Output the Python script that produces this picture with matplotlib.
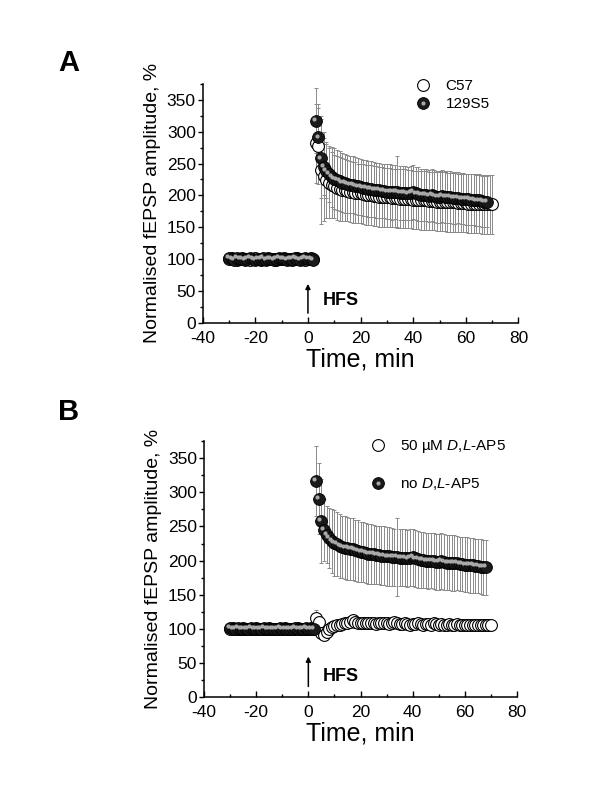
# -*- coding: utf-8 -*-
# LTP time course, two panels (A: strains, B: +/- D,L-AP5)
import numpy as np
import matplotlib
matplotlib.use('Agg')
import matplotlib.pyplot as plt
from matplotlib.ticker import MultipleLocator
from matplotlib.lines import Line2D
from matplotlib.legend_handler import HandlerTuple
from matplotlib.transforms import offset_copy

plt.rcParams['font.family'] = ['Liberation Sans', 'DejaVu Sans']
plt.rcParams['mathtext.fontset'] = 'custom'
plt.rcParams['mathtext.rm'] = 'Liberation Sans'
plt.rcParams['mathtext.it'] = 'Liberation Sans:italic'
plt.rcParams['axes.unicode_minus'] = False

# ---- data ----
t_base = np.arange(-30, 3)          # baseline, -30 .. 2 min
base_filled = [101, 100, 99, 101, 100, 100, 99, 100, 101, 100, 99,
               100, 100, 101, 99, 100, 100, 99, 100, 101, 100, 100,
               99, 100, 100, 101, 100, 99, 100, 101, 100, 100, 99]
base_open = [100, 101, 100, 99, 100, 101, 100, 100, 99, 100, 101,
             100, 99, 100, 100, 101, 100, 100, 99, 100, 100, 101,
             100, 100, 99, 100, 101, 100, 100, 99, 100, 101, 100]
base_err = [3] * 33

t_filled = np.arange(3, 69)         # after HFS
post_filled = [317, 291, 258, 245, 238, 233, 229, 226, 224, 222,
               220, 219, 218, 217, 217, 215, 214, 213, 212, 211,
               210, 210, 209, 208, 208, 207, 207, 206, 206, 205,
               205, 205, 204, 204, 204, 203, 204, 205, 203, 202,
               201, 201, 200, 199, 200, 199, 198, 198, 199, 198,
               197, 197, 196, 196, 196, 195, 195, 194, 194, 193,
               193, 192, 192, 191, 190, 190]
err_filled = [51, 52, 62, 45, 42, 44, 47, 48, 47, 47,
              46, 46, 46, 45, 45, 45, 45, 44, 44, 44,
              44, 44, 43, 43, 43, 43, 43, 43, 43, 43,
              42, 57, 42, 42, 42, 42, 42, 42, 42, 42,
              41, 41, 41, 41, 41, 41, 41, 41, 41, 41,
              41, 41, 41, 41, 40, 40, 40, 40, 40, 40,
              40, 40, 40, 40, 40, 40]

t_open = np.arange(3, 71)
post_c57 = [282, 278, 240, 230, 224, 220, 216, 214, 212, 210,
            209, 208, 207, 206, 205, 204, 203, 203, 202, 201,
            200, 200, 199, 199, 198, 198, 197, 197, 197, 196,
            196, 196, 195, 195, 195, 194, 194, 193, 193, 193,
            192, 192, 192, 191, 191, 191, 190, 190, 190, 190,
            189, 189, 189, 189, 188, 188, 188, 188, 187, 187,
            187, 187, 187, 186, 186, 186, 186, 186]
err_c57 = [62, 60, 85, 70, 60, 55, 52, 50, 50, 50,
           49, 49, 48, 48, 48, 48, 47, 47, 47, 47,
           47, 47, 47, 47, 47, 47, 46, 46, 46, 46,
           46, 46, 46, 46, 46, 46, 46, 46, 46, 46,
           46, 46, 46, 46, 46, 46, 46, 46, 46, 46,
           46, 46, 46, 46, 46, 46, 46, 46, 46, 46,
           46, 46, 46, 46, 46, 46, 46, 46]

post_ap5 = [115, 110, 93, 91, 95, 99, 102, 104, 105, 106,
            107, 108, 109, 110, 112, 110, 109, 109, 108, 108,
            109, 108, 108, 107, 108, 108, 109, 108, 107, 108,
            110, 108, 107, 107, 108, 107, 106, 107, 107, 108,
            107, 106, 107, 107, 106, 108, 107, 106, 107, 106,
            106, 107, 106, 106, 107, 106, 105, 106, 106, 105,
            106, 105, 106, 105, 105, 106, 105, 105]
err_ap5 = [12, 9, 7, 7, 7, 6, 6, 6, 6, 6,
           6, 6, 6, 6, 6, 6, 6, 6, 6, 6,
           6, 6, 6, 6, 6, 6, 6, 6, 6, 6,
           6, 6, 6, 6, 6, 6, 6, 6, 6, 6,
           6, 6, 6, 6, 6, 6, 6, 6, 6, 6,
           6, 6, 6, 6, 6, 6, 6, 6, 6, 6,
           6, 6, 6, 6, 6, 6, 6, 6]

fig = plt.figure(figsize=(6, 7.99), dpi=100)
axA = fig.add_axes([0.3378, 0.5961, 0.5263, 0.2988])
axB = fig.add_axes([0.3400, 0.1280, 0.5217, 0.3196])

MS = 8.5
HL_MS = 3.0
HL_COL = '#a8a8a8'


def series(ax, t, y, err, filled):
    ax.errorbar(t, y, yerr=err, fmt='none', ecolor='#8a8a8a', elinewidth=0.7,
                capsize=1.6, capthick=0.7, zorder=1)
    if filled:
        ax.plot(t, y, 'o', ms=MS, mfc='#1a1a1a', mec='black', mew=0.6, zorder=4)
        hl = offset_copy(ax.transData, fig=fig, x=-1.4, y=1.4, units='points')
        ax.plot(t, y, 'o', ms=HL_MS, mfc=HL_COL, mec='none', transform=hl, zorder=5)
    else:
        ax.plot(t, y, 'o', ms=MS, mfc='white', mec='black', mew=0.8, zorder=3)


def style(ax, arrow_y, hfs_y):
    ax.set_xlim(-40, 80)
    ax.set_ylim(0, 375)
    ax.xaxis.set_major_locator(MultipleLocator(20))
    ax.xaxis.set_minor_locator(MultipleLocator(10))
    ax.yaxis.set_major_locator(MultipleLocator(50))
    ax.yaxis.set_minor_locator(MultipleLocator(25))
    for s in ['top', 'right']:
        ax.spines[s].set_visible(False)
    for s in ['left', 'bottom']:
        ax.spines[s].set_linewidth(1.1)
    ax.tick_params(axis='x', which='both', direction='in', labelsize=12.5, pad=6, width=1)
    ax.tick_params(axis='x', which='major', length=4)
    ax.tick_params(axis='x', which='minor', length=2.5)
    ax.tick_params(axis='y', which='both', direction='out', labelsize=12.5, pad=1.5, width=1)
    ax.tick_params(axis='y', which='major', length=3.5)
    ax.tick_params(axis='y', which='minor', length=2)
    ax.set_xlabel('Time, min', fontsize=18, labelpad=1)
    ax.set_ylabel('Normalised fEPSP amplitude, %', fontsize=14, labelpad=4)
    ax.annotate('', xy=(0, arrow_y[1]), xytext=(0, arrow_y[0]),
                arrowprops=dict(arrowstyle='-|>', color='black', lw=1.1,
                                mutation_scale=7, shrinkA=0, shrinkB=0))
    ax.text(5.5, hfs_y, 'HFS', fontsize=13, fontweight='bold', va='center', ha='left')


# panel A
series(axA, np.concatenate([t_base, t_open]), base_open + post_c57, base_err + err_c57, False)
series(axA, np.concatenate([t_base, t_filled]), base_filled + post_filled, base_err + err_filled, True)
style(axA, (15, 61), 35)

# panel B
series(axB, np.concatenate([t_base, t_open]), base_open + post_ap5, base_err + err_ap5, False)
series(axB, np.concatenate([t_base, t_filled]), base_filled + post_filled, base_err + err_filled, True)
style(axB, (15, 59), 30)

h_open = Line2D([], [], ls='none', marker='o', ms=MS, mfc='white', mec='black', mew=0.8)
h_ball = Line2D([], [], ls='none', marker='o', ms=MS, mfc='#1a1a1a', mec='black', mew=0.6)
h_dot = Line2D([], [], ls='none', marker='o', ms=HL_MS, mfc=HL_COL, mec='none')

axA.legend([h_open, (h_ball, h_dot)], ['C57', '129S5'],
           handler_map={tuple: HandlerTuple(ndivide=1, pad=0)},
           loc='upper left', bbox_to_anchor=(0.675, 1.02), frameon=False,
           fontsize=11, handlelength=1.0, handletextpad=0.95, labelspacing=0.25,
           borderpad=0, borderaxespad=0)
axB.legend([h_open, (h_ball, h_dot)],
           ['50 \u00b5M $\\mathit{D}$,$\\mathit{L}$-AP5', 'no $\\mathit{D}$,$\\mathit{L}$-AP5'],
           handler_map={tuple: HandlerTuple(ndivide=1, pad=0)},
           loc='upper left', bbox_to_anchor=(0.532, 1.012), frameon=False,
           fontsize=11, handlelength=1.0, handletextpad=0.9, labelspacing=1.35,
           borderpad=0, borderaxespad=0)

fig.text(0.114, 0.921, 'A', fontsize=21, fontweight='bold', ha='center', va='center')
fig.text(0.114, 0.484, 'B', fontsize=21, fontweight='bold', ha='center', va='center')

fig.savefig('out.png', dpi=100)
